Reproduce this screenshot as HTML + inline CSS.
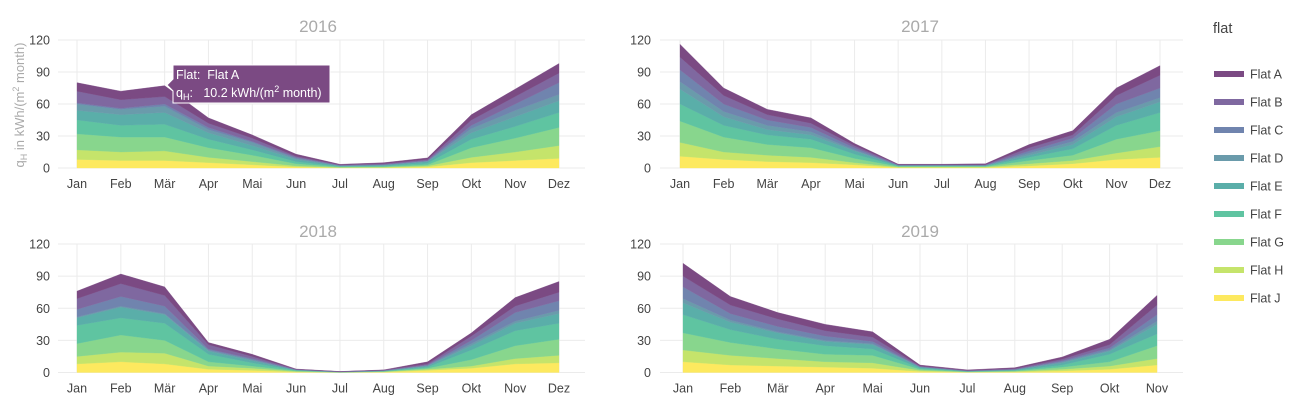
<!DOCTYPE html>
<html><head><meta charset="utf-8"><style>
body{margin:0;background:#fff;font-family:"Liberation Sans",sans-serif}
svg text{font-family:"Liberation Sans",sans-serif}
</style></head><body>
<svg id="chart" width="1300" height="405" xmlns="http://www.w3.org/2000/svg"></svg>
<script>
const flats = ["Flat J","Flat H","Flat G","Flat F","Flat E","Flat D","Flat C","Flat B","Flat A"];
const colors = ["#fde95f","#c5e46b","#88d68d","#5fc4a1","#5aaea9","#6a9bab","#7084ae","#7f68a0","#7b4a83"];
const monthsFull = ["Jan","Feb","Mär","Apr","Mai","Jun","Jul","Aug","Sep","Okt","Nov","Dez"];
const yTicks = [0,30,60,90,120];
const years = ["2016","2017","2018","2019"];
// rows = months, columns = flats J..A
const y2016 = [[8,9,15,13,9,6,1,11,8],[7,8,14,11,10,5,1,8,8],[7,9,13,12,11,6,2,7,10.2],[5,5,9,8,6,3,2,4,5],[3,3,6,5,4,3,1,3,3],[1,1,2,2,2,1,1,1,2],[0.3,0.3,0.4,0.5,0.5,0.3,0.2,0.5,0.5],[0.4,0.4,0.5,0.7,0.6,0.4,0.3,0.7,1],[1,1,1,1.5,1.5,0.5,0.5,1,1.5],[5,5,9,8,6,4,3,5,5],[7,8,13,11,9,6,6,7,7],[9,12,17,14,11,6,11,9,9]];
const y2017 = [[11,13,20,16,14,7,11,12,12],[8,7,14,11,8,5,7,8,7],[6,6,10,9,5,4,5,5,5],[5,5,9,8,4,3,4,4,5],[3,2,4,4,3,1,2,2,2],[0.5,0.5,0.5,0.5,0.3,0.2,0.3,0.4,0.4],[0.5,0.5,0.5,0.5,0.3,0.2,0.3,0.4,0.4],[0.5,0.5,0.5,0.5,0.3,0.2,0.3,0.4,0.8],[2,2,3,3,2,2,2,3,3],[4,3,5,6,4,3,3,3,4],[8,6,13,13,8,4,8,8,7],[10,10,15,17,10,4,9,12,9]];
const y2018 = [[8,7,12,17,7,1,7,10,7],[10,9,16,16,10,1,9,12,9],[8,10,12,16,8,1,7,10,8],[3,3,4,7,3,1,1,4,2],[2,2,2,3,2,1,1,2,2],[0.5,0.5,0.5,0.5,0.3,0.2,0.2,0.3,0.3],[0.1,0.1,0.1,0.1,0.1,0.1,0.1,0.2,0.1],[0.4,0.4,0.2,0.3,0.2,0.2,0.2,0.3,0.3],[2,1,1,1,1,0.5,0.5,1,2],[4,2,6,9,4,2,3,4,3],[8,5,12,14,7,2,8,6,8],[9,7,15,15,9,3,9,8,10]];
const y2019 = [[10,11,16,17,11,4,11,10,12],[7,9,12,12,7,2,6,8,8],[6,7,9,9,6,1,5,7,6],[5,5,7,8,4,1,4,5,6],[4,5,7,6,4,1,2,4,5],[1,1,1,1,1,0.2,0.3,0.5,1],[0.3,0.2,0.3,0.2,0.3,0.1,0.2,0.4,0.5],[0.5,0.5,0.5,0.5,0.5,0.2,0.3,0.6,0.9],[1.5,1.5,2,2,2,1,1,1.5,2],[3,3,4,7,3,1,2,3,5],[7,6,12,11,9,3,6,9,9]];
const yearData = [y2016,y2017,y2018,y2019];

const NS="http://www.w3.org/2000/svg";
const svg=document.getElementById('chart');
function mk(tag,attrs,parent){const e=document.createElementNS(NS,tag);for(const k in attrs)e.setAttribute(k,attrs[k]);(parent||svg).appendChild(e);return e;}

const panels=[
 {gx0:58,gx1:585,x0:77,x1:559,y0:168,y1:40,tx:318,ty:32,lx:50},
 {gx0:660,gx1:1183,x0:680,x1:1160,y0:168,y1:40,tx:920,ty:32,lx:651},
 {gx0:58,gx1:585,x0:77,x1:559,y0:372.5,y1:244,tx:318,ty:237,lx:50},
 {gx0:660,gx1:1183,x0:683,x1:1157,y0:372.5,y1:244,tx:920,ty:237,lx:651}
];
panels.forEach((p,pi)=>{
  const data=yearData[pi];
  const n=data.length;
  const xs=i=>p.x0+(p.x1-p.x0)*i/(n-1);
  const ys=v=>p.y0-(p.y0-p.y1)*v/120;
  const g=mk('g',{});
  
  
  yTicks.forEach(t=>{
    const l=mk('line',{x1:p.gx0,x2:p.gx1,y1:ys(t),y2:ys(t),stroke:'#ebebeb','stroke-width':1},g);
    
    
    const tx=mk('text',{x:p.lx,y:ys(t)+4.5,'text-anchor':'end','font-size':12.5,fill:'#444'},g);
    tx.textContent=t;
    
    
  });
  for(let i=0;i<n;i++){
    const l=mk('line',{x1:xs(i),x2:xs(i),y1:p.y1,y2:p.y0,stroke:'#ebebeb','stroke-width':1},g);
    
    
    const tx=mk('text',{x:xs(i),y:p.y0+20,'text-anchor':'middle','font-size':12.5,fill:'#444'},g);
    tx.textContent=monthsFull[i];
    
    
  }
  const cum=data.map(()=>0);
  flats.forEach((f,fi)=>{
    const lower=cum.slice();
    data.forEach((row,i)=>{cum[i]+=row[fi];});
    let d='M';
    for(let i=0;i<n;i++)d+=xs(i)+','+ys(cum[i])+' L';
    for(let i=n-1;i>=0;i--)d+=xs(i)+','+ys(lower[i])+(i>0?' L':' Z');
    const a=mk('path',{d:d,fill:colors[fi],stroke:colors[fi],'stroke-width':0.5,'stroke-opacity':0.6},g);
    
    
  });
  const t=mk('text',{x:p.tx,y:p.ty,'text-anchor':'middle','font-size':17,fill:'#aaa'},g);
  t.textContent=years[pi];
  
  
});
// y axis title
const yt=mk('text',{x:0,y:0,transform:'translate(24,105) rotate(-90)','text-anchor':'middle','font-size':13,fill:'#aaa'});
yt.innerHTML='q<tspan font-size="9" dy="3">H</tspan><tspan dy="-3"> in kWh/(m</tspan><tspan font-size="9" dy="-5">2</tspan><tspan dy="5"> month)</tspan>';


// legend
const lt=mk('text',{x:1213,y:33,'font-size':14.5,fill:'#444'});
lt.textContent='flat';


for(let k=0;k<flats.length;k++){
  const fi=flats.length-1-k;
  const y=74+k*28;
  const lg=mk('g',{});
  
  
  mk('rect',{x:1214,y:y-3,width:30,height:6,fill:colors[fi]},lg);
  const tx=mk('text',{x:1250,y:y+4.5,'font-size':12.5,fill:'#444'},lg);
  tx.textContent=flats[fi];
}
// tooltip
const tg=mk('g',{});


mk('path',{d:'M167,85 L173,79 L173,65 L330,65 L330,103 L173,103 L173,91 Z',fill:'#7b4a83',stroke:'#fff','stroke-width':1},tg);
const t1=mk('text',{x:176,y:79,'font-size':12.5,fill:'#fff','xml:space':'preserve'},tg);
t1.setAttribute('style','white-space:pre');
t1.textContent='Flat:  Flat A';
const t2=mk('text',{x:176,y:97,'font-size':12.5,fill:'#fff'},tg);
t2.setAttribute('style','white-space:pre');
t2.innerHTML='q<tspan font-size="9" dy="3">H</tspan><tspan dy="-3">:   10.2 kWh/(m</tspan><tspan font-size="9" dy="-5">2</tspan><tspan dy="5"> month)</tspan>';
</script>
</body></html>
